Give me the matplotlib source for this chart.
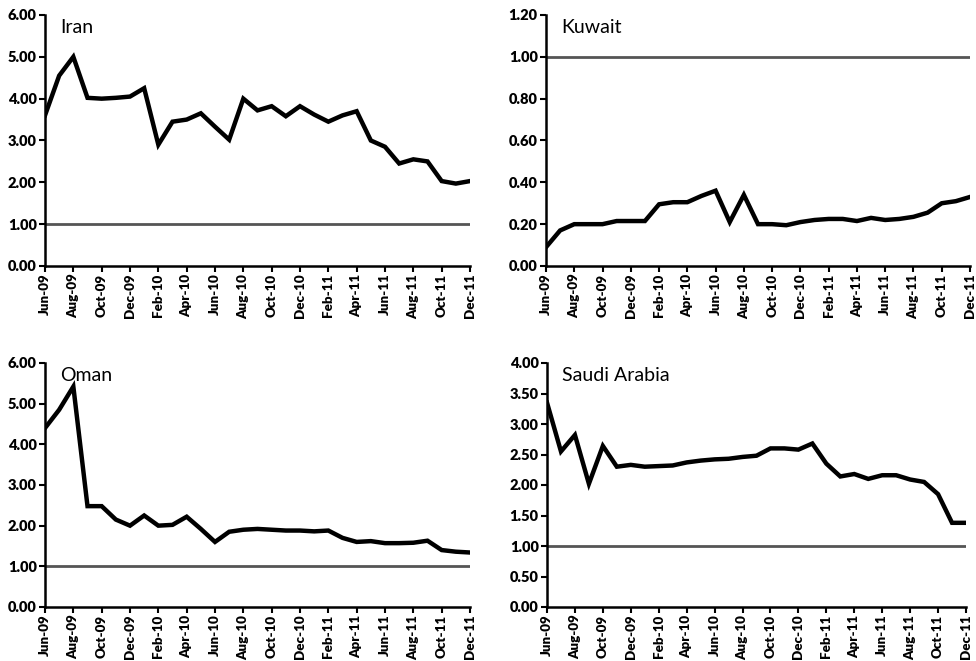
import matplotlib
matplotlib.use("Agg")
import matplotlib.pyplot as plt
import numpy as np

plt.rcParams['font.family'] = ['Lato', 'DejaVu Sans']

months = ['Jun-09', 'Jul-09', 'Aug-09', 'Sep-09', 'Oct-09', 'Nov-09', 'Dec-09',
          'Jan-10', 'Feb-10', 'Mar-10', 'Apr-10', 'May-10', 'Jun-10', 'Jul-10',
          'Aug-10', 'Sep-10', 'Oct-10', 'Nov-10', 'Dec-10', 'Jan-11', 'Feb-11',
          'Mar-11', 'Apr-11', 'May-11', 'Jun-11', 'Jul-11', 'Aug-11', 'Sep-11',
          'Oct-11', 'Nov-11', 'Dec-11']

iran = [3.60, 4.55, 5.00, 4.02, 4.00, 4.02, 4.05, 4.25, 2.90, 3.45, 3.50,
        3.65, 3.33, 3.02, 4.00, 3.72, 3.82, 3.58, 3.82, 3.62, 3.45, 3.60,
        3.70, 3.00, 2.85, 2.45, 2.55, 2.50, 2.03, 1.97, 2.03]
kuwait = [0.09, 0.17, 0.20, 0.20, 0.20, 0.215, 0.215, 0.215, 0.295, 0.305,
          0.305, 0.335, 0.36, 0.21, 0.34, 0.20, 0.20, 0.195, 0.21, 0.22,
          0.225, 0.225, 0.215, 0.23, 0.22, 0.225, 0.235, 0.255, 0.30, 0.31, 0.33]
oman = [4.40, 4.85, 5.42, 2.48, 2.48, 2.15, 2.00, 2.25, 2.00, 2.02, 2.22,
        1.92, 1.60, 1.85, 1.90, 1.92, 1.90, 1.88, 1.88, 1.86, 1.88, 1.70,
        1.60, 1.62, 1.57, 1.57, 1.58, 1.63, 1.40, 1.36, 1.34]
saudi = [3.35, 2.55, 2.82, 2.02, 2.64, 2.30, 2.33, 2.30, 2.31, 2.32, 2.37,
         2.40, 2.42, 2.43, 2.46, 2.48, 2.60, 2.60, 2.58, 2.68, 2.35, 2.14,
         2.18, 2.10, 2.16, 2.16, 2.09, 2.05, 1.85, 1.38, 1.38]

# (name, values, ymax, ystep, axes rect in figure pixels: left, top, right, bottom)
panels = [
    ('Iran', iran, 6.0, 1.0, (45, 15, 470, 266)),
    ('Kuwait', kuwait, 1.2, 0.2, (546, 15, 970, 266)),
    ('Oman', oman, 6.0, 1.0, (45, 363, 470, 607)),
    ('Saudi Arabia', saudi, 4.0, 0.5, (547, 363, 966, 607)),
]

W, H = 976, 661
fig = plt.figure(figsize=(W / 100, H / 100), dpi=100)
x = np.arange(len(months))

for name, vals, ymax, step, (l, t, r, b) in panels:
    ax = fig.add_axes([l / W, 1 - b / H, (r - l) / W, (b - t) / H])
    ax.axhline(1.0, color='#555555', lw=2.0, zorder=1)
    ax.plot(x, vals, color='black', lw=3.2, solid_joinstyle='miter', zorder=2)
    ax.set_xlim(0, len(months) - 1)
    ax.set_ylim(0, ymax)
    yt = np.arange(0, ymax + step / 2, step)
    ax.set_yticks(yt)
    ax.set_yticklabels(['%.2f' % v for v in yt], fontsize=10.5, fontweight='heavy')
    ax.set_xticks(x[::2])
    ax.set_xticklabels(months[::2], rotation=90, fontsize=9.6, fontweight='heavy')
    ax.tick_params(direction='out', length=4, width=1.5, pad=2)
    ax.tick_params(axis='x', pad=1.5)
    for side in ('top', 'right'):
        ax.spines[side].set_visible(False)
    for side in ('left', 'bottom'):
        ax.spines[side].set_linewidth(1.8)
    ax.text(0.035, 0.985, name, transform=ax.transAxes, fontsize=14,
            va='top', ha='left')

fig.savefig('out.png', dpi=100)
